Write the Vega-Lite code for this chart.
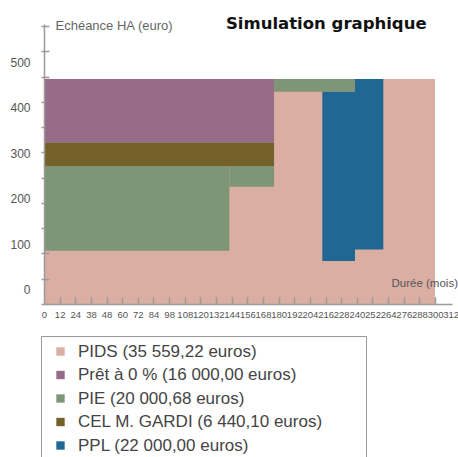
{
  "$schema": "https://vega.github.io/schema/vega-lite/v6.json",
  "width": 408,
  "height": 280,
  "autosize": {"type": "none"},
  "padding": {"left": 44, "top": 24, "right": 6, "bottom": 153},
  "background": "white",
  "title": {"text": "Simulation graphique", "anchor": "end", "font": "DejaVu Sans", "fontSize": 16.5, "fontWeight": "bold", "color": "#111111", "dx": -32, "offset": 0, "baseline": "alphabetic", "dy": 26},
  "config": {"view": {"stroke": null}, "axis": {"grid": false}},
  "data": {"values": [
    {"serie": "PIDS (35 559,22 euros)", "x0": 0, "x1": 300, "y0": -32, "y1": 463},
    {"serie": "Prêt à 0 % (16 000,00 euros)", "x0": 0, "x1": 176.5, "y0": 323, "y1": 463},
    {"serie": "CEL M. GARDI (6 440,10 euros)", "x0": 0, "x1": 176.5, "y0": 271.5, "y1": 323},
    {"serie": "PIE (20 000,68 euros)", "x0": 0, "x1": 142.2, "y0": 85, "y1": 271.5},
    {"serie": "PIE (20 000,68 euros)", "x0": 142.2, "x1": 176.5, "y0": 226, "y1": 271.5},
    {"serie": "PIE (20 000,68 euros)", "x0": 176.5, "x1": 238.6, "y0": 435, "y1": 463},
    {"serie": "PPL (22 000,00 euros)", "x0": 213.5, "x1": 238.6, "y0": 62.5, "y1": 435},
    {"serie": "PPL (22 000,00 euros)", "x0": 238.6, "x1": 260.3, "y0": 88, "y1": 463}
  ]},
  "layer": [
    {
      "mark": {"type": "rect", "strokeWidth": 0},
      "encoding": {
        "x": {"field": "x0", "type": "quantitative",
          "scale": {"domain": [0, 313], "nice": false, "zero": false},
          "axis": {
            "values": [0,12,24,36,48,60,72,84,96,108,120,132,144,156,168,180,192,204,216,228,240,252,264,276,288,300,312],
            "labelExpr": "datum.value == 36 ? '38' : datum.value == 96 ? '98' : datum.label",
            "labelFont": "Liberation Sans",
            "labelFontSize": 9.5,
            "labelColor": "#555555",
            "labelOverlap": false,
            "labelFlush": false,
            "labelPadding": 12,
            "tickSize": -7,
            "tickWidth": 1.5,
            "tickColor": "#9a9a9a",
            "tickOpacity": {"condition": {"test": "datum.value == 312 || datum.value == 0", "value": 0}, "value": 1},
            "domainColor": "#9a9a9a",
            "domainWidth": 1.5,
            "title": "Durée (mois)",
            "titleFont": "Liberation Sans",
            "titleFontSize": 11.5,
            "titleFontWeight": "normal",
            "titleColor": "#555555",
            "titleAlign": "left",
            "titleBaseline": "middle",
            "titleLimit": 300,
            "titleX": 347,
            "titleY": -21,
            "zindex": 1
          }
        },
        "x2": {"field": "x1"},
        "y": {"field": "y0", "type": "quantitative",
          "scale": {"domain": [-32, 584], "nice": false, "zero": false},
          "axis": {
            "orient": "left",
            "values": [0, 100, 200, 300, 400, 500],
            "ticks": false,
            "domain": false,
            "labelPadding": 14,
            "labelFont": "Liberation Sans",
            "labelFontSize": 12,
            "labelColor": "#555555",
            "title": "Echéance HA (euro)",
            "titleAngle": 0,
            "titleX": 11,
            "titleY": 1,
            "titleAlign": "left",
            "titleBaseline": "middle",
            "titleFont": "Liberation Sans",
            "titleFontSize": 13,
            "titleFontWeight": "normal",
            "titleColor": "#666666",
            "titleLimit": 300,
            "zindex": 1
          }
        },
        "y2": {"field": "y1"},
        "color": {"field": "serie", "type": "nominal",
          "scale": {
            "domain": ["PIDS (35 559,22 euros)", "Prêt à 0 % (16 000,00 euros)", "PIE (20 000,68 euros)", "CEL M. GARDI (6 440,10 euros)", "PPL (22 000,00 euros)"],
            "range": ["#DAAEA3", "#966C88", "#7F9676", "#74612A", "#216793"]
          },
          "legend": {
            "orient": "none",
            "legendX": -3,
            "legendY": 312,
            "title": null,
            "symbolType": "square",
            "symbolSize": 70,
            "symbolStrokeWidth": 0,
            "symbolOffset": 4,
            "labelFont": "Liberation Sans",
            "labelFontSize": 17,
            "labelColor": "#444444",
            "labelLimit": 600,
            "labelOffset": 9,
            "rowPadding": 5.5,
            "padding": 7,
            "strokeColor": "#9a9a9a",
            "labelExpr": "datum.label + '\u2800\u2800\u2800'"
          }
        }
      }
    },
    {
      "transform": [{"filter": "false"}],
      "mark": {"type": "rect"},
      "encoding": {
        "x": {"field": "x0", "type": "quantitative", "axis": null},
        "y": {"field": "y0", "type": "quantitative",
          "axis": {
            "orient": "left",
            "values": [-32, 23.6, 79.2, 134.7, 190.3, 245.9, 301.5, 357.1, 412.6, 468.2, 523.8, 579.4],
            "labels": false,
            "domain": true,
            "domainColor": "#9a9a9a",
            "domainWidth": 1.5,
            "ticks": true,
            "tickSize": 3,
            "tickWidth": 1.5,
            "tickColor": "#9a9a9a",
            "title": null,
            "zindex": 1
          }
        }
      }
    },
    {
      "transform": [{"filter": "false"}],
      "mark": {"type": "rect"},
      "encoding": {
        "x": {"field": "x0", "type": "quantitative", "axis": null},
        "y": {"field": "y0", "type": "quantitative",
          "axis": {
            "orient": "left",
            "values": [23.6, 79.2, 468.2, 523.8, 579.4],
            "labels": false,
            "domain": false,
            "ticks": true,
            "tickSize": -5,
            "tickWidth": 1.5,
            "tickColor": "#9a9a9a",
            "title": null,
            "zindex": 1
          }
        }
      }
    }
  ],
  "resolve": {"axis": {"y": "independent", "x": "independent"}}
}
